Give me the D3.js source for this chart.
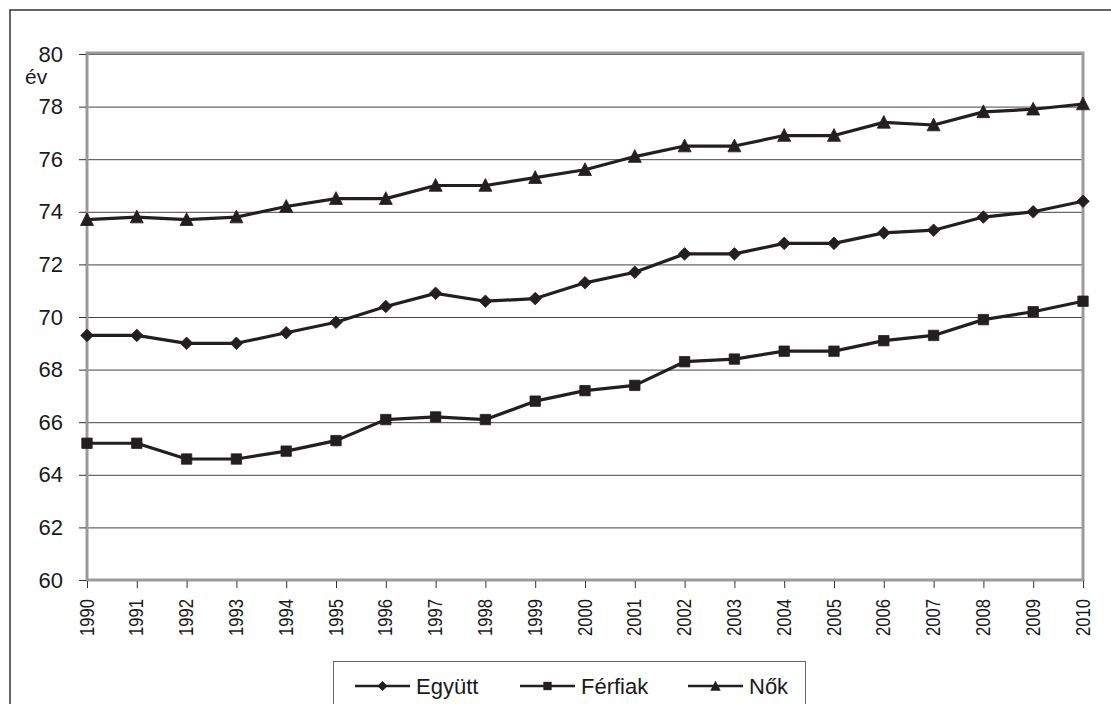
<!DOCTYPE html>
<html>
<head>
<meta charset="utf-8">
<script src="https://cdn.jsdelivr.net/npm/d3@7"></script>
<style>
  html, body { margin: 0; padding: 0; background: #fff; }
  svg { display: block; }
  text { font-family: "Liberation Sans", Arial, sans-serif; fill: #1a1a1a; }
</style>
</head>
<body>
<svg id="chart" width="1111" height="704"></svg>
<script>
const years = ["1990","1991","1992","1993","1994","1995","1996","1997","1998","1999","2000",
               "2001","2002","2003","2004","2005","2006","2007","2008","2009","2010"];
const egyutt  = [69.3, 69.3, 69.0, 69.0, 69.4, 69.8, 70.4, 70.9, 70.6, 70.7, 71.3,
                 71.7, 72.4, 72.4, 72.8, 72.8, 73.2, 73.3, 73.8, 74.0, 74.4];
const ferfiak = [65.2, 65.2, 64.6, 64.6, 64.9, 65.3, 66.1, 66.2, 66.1, 66.8, 67.2,
                 67.4, 68.3, 68.4, 68.7, 68.7, 69.1, 69.3, 69.9, 70.2, 70.6];
const nok     = [73.7, 73.8, 73.7, 73.8, 74.2, 74.5, 74.5, 75.0, 75.0, 75.3, 75.6,
                 76.1, 76.5, 76.5, 76.9, 76.9, 77.4, 77.3, 77.8, 77.9, 78.1];
const seriesNames = ["Együtt", "Férfiak", "Nők"];
const markerTypes = ["diamond", "square", "triangle"];
const yTicks = [60, 62, 64, 66, 68, 70, 72, 74, 76, 78, 80];
const yUnit = "év";

const series = [egyutt, ferfiak, nok].map((vals, i) => ({
  name: seriesNames[i], marker: markerTypes[i], values: vals
}));

const svg = d3.select("#chart");
const ink = "#231f20";
const L = 87, R = 1083, T = 54, B = 580;

// outer frame
svg.append("rect").attr("x", 10).attr("y", 10).attr("width", 1300).attr("height", 1000)
  .attr("fill", "none").attr("stroke", "#333").attr("stroke-width", 1.5);

const x = d3.scalePoint().domain(years).range([L, R]);
const y = d3.scaleLinear().domain([60, 80]).range([B, T]);

// gridlines
svg.append("g").selectAll("line").data(yTicks.filter(t => t > 60)).join("line")
  .attr("x1", L).attr("x2", R).attr("y1", d => y(d) + 0.5).attr("y2", d => y(d) + 0.5)
  .attr("stroke", "#444").attr("stroke-width", 1);

// plot border
svg.append("rect").attr("x", L).attr("y", T - 1).attr("width", R - L).attr("height", B - T + 1)
  .attr("fill", "none").attr("stroke", "#9a9a9a").attr("stroke-width", 3);

// y axis
const yAxis = d3.axisLeft(y).tickValues(yTicks).tickSize(7).tickPadding(16).tickFormat(d3.format("d"));
const gy = svg.append("g").attr("transform", `translate(${L - 1},0)`).call(yAxis);
gy.select(".domain").remove();
gy.selectAll(".tick line").attr("stroke", "#333").attr("stroke-width", 1);
gy.selectAll(".tick text").attr("font-size", 22).attr("fill", "#1a1a1a")
  .attr("font-family", '"Liberation Sans", Arial, sans-serif');

svg.append("text").attr("x", 25).attr("y", 84).attr("font-size", 21).text(yUnit);

// x axis
const xAxis = d3.axisBottom(x).tickSize(7).tickFormat("");
const gx = svg.append("g").attr("transform", `translate(0,${B + 1})`).call(xAxis);
gx.select(".domain").remove();
gx.selectAll(".tick line").attr("stroke", "#333").attr("stroke-width", 1);

svg.append("g").selectAll("text").data(years).join("text")
  .attr("transform", d => `translate(${x(d) + 6.5},599) rotate(-90)`)
  .attr("text-anchor", "end")
  .attr("font-size", 20)
  .attr("textLength", 37).attr("lengthAdjust", "spacingAndGlyphs")
  .text(d => d);

// marker generator
function markerPath(type, k) {
  if (type === "diamond") { const s = 6.3 * k; return `M0,${-s}L${s},0L0,${s}L${-s},0Z`; }
  if (type === "square") { const s = 5.2 * k; return `M${-s},${-s}H${s}V${s}H${-s}Z`; }
  return `M0,${-7 * k}L${6.5 * k},${5.8 * k}L${-6.5 * k},${5.8 * k}Z`;
}

const line = d3.line().x((d, i) => x(years[i])).y(d => y(d));

series.forEach(s => {
  svg.append("path").datum(s.values).attr("d", line)
    .attr("fill", "none").attr("stroke", ink).attr("stroke-width", 3.2)
    .attr("stroke-linejoin", "round");
  svg.append("g").selectAll("path").data(s.values).join("path")
    .attr("transform", (d, i) => `translate(${x(years[i])},${y(d)})`)
    .attr("d", markerPath(s.marker, 1))
    .attr("fill", ink).attr("stroke", ink).attr("stroke-width", 0.8).attr("stroke-linejoin", "round");
});

// legend
svg.append("rect").attr("x", 333.5).attr("y", 661.5).attr("width", 472).attr("height", 80)
  .attr("fill", "none").attr("stroke", "#666").attr("stroke-width", 1);
const legendX = [355, 520, 688];
const legendY = 686;
series.forEach((s, i) => {
  const g = svg.append("g").attr("transform", `translate(${legendX[i]},${legendY})`);
  g.append("line").attr("x1", 0).attr("x2", 55).attr("y1", 0).attr("y2", 0)
    .attr("stroke", ink).attr("stroke-width", 2.5);
  g.append("path").attr("transform", "translate(27.5,0)")
    .attr("d", markerPath(s.marker, 0.8))
    .attr("fill", ink);
  g.append("text").attr("x", 61).attr("y", 8).attr("font-size", 22).text(s.name);
});
</script>
</body>
</html>
